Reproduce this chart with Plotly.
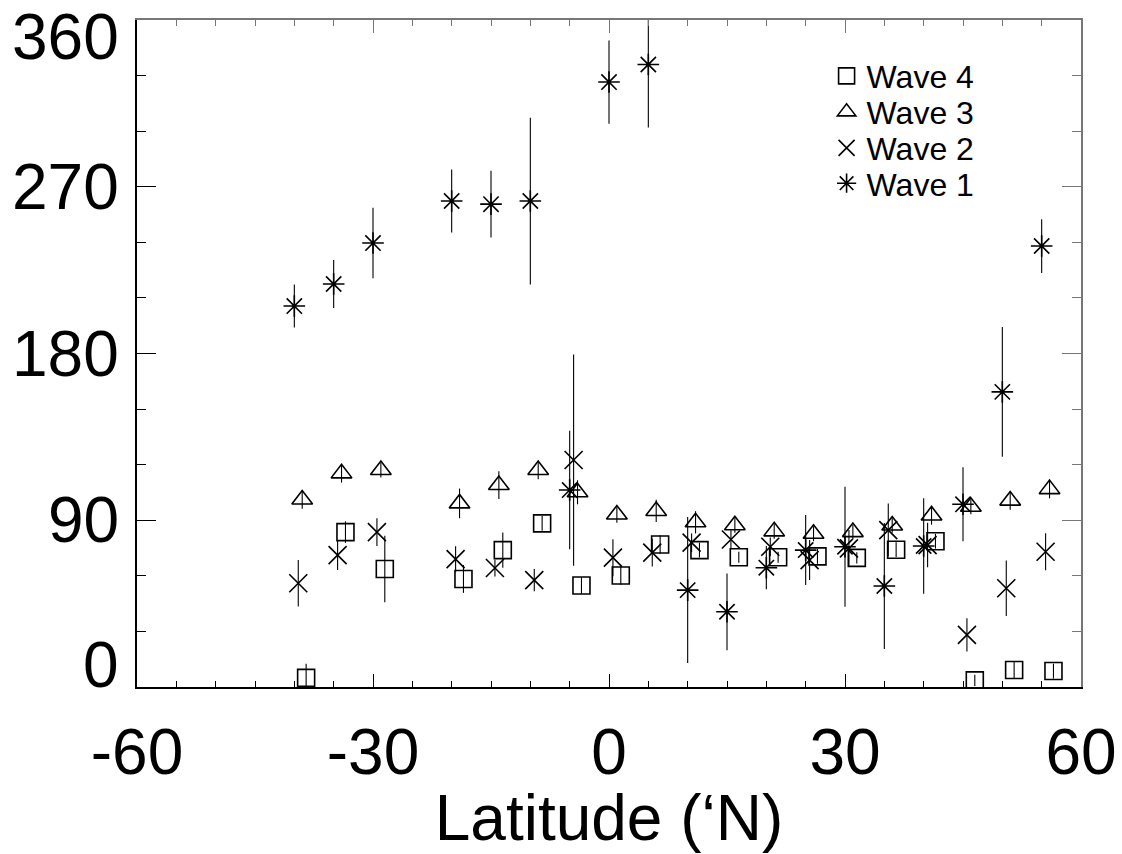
import plotly.graph_objects as go

# ---- data ----
y_tick_values = [0, 90, 180, 270, 360]
x_tick_values = [-60, -30, 0, 30, 60]
x_tick_labels = ["-60", "-30", "0", "30", "60"]

lat_w1 = [-40, -35, -30, -20, -15, -10, -5, 0, 5, 10, 15, 20, 25, 30, 35, 40, 45, 50, 55]
wave1 = [205.6, 217.5, 239.6, 262.3, 260.6, 262.3, 106.3, 326.5, 336.0, 52.3, 40.6, 64.4,
         73.9, 75.7, 54.5, 76.1, 98.6, 159.3, 238.0]
wave1_err = [11.6, 13.0, 19.0, 17.0, 18.0, 45.0, 32.0, 22.5, 34.0, 39.4, 20.7, 11.7,
             18.9, 32.4, 34.0, 25.8, 20.0, 35.0, 14.5]

lat_w2 = [-39.5, -34.5, -29.5, -19.5, -14.5, -9.5, -4.5, 0.5, 5.5, 10.5, 15.5, 20.5,
          25.5, 30.5, 35.5, 40.5, 45.5, 50.5, 55.5]
wave2 = [56.0, 71.2, 83.6, 69.0, 64.2, 57.7, 122.5, 69.8, 72.5, 77.9, 79.6, 75.7,
         68.5, 74.8, 84.7, 76.6, 28.1, 53.3, 73.0]
wave2_err = [12.5, 8.0, 7.5, 7.0, 4.5, 6.0, 57.0, 10.0, 7.5, 5.0, 5.0, 5.0,
             10.8, 10.0, 14.3, 12.0, 9.0, 15.0, 10.0]

lat_w3 = [-39, -34, -29, -19, -14, -9, -4, 1, 6, 11, 16, 21, 26, 31, 36, 41, 46, 51, 56]
wave3 = [101.2, 115.3, 117.1, 99.1, 109.0, 117.1, 105.1, 93.1, 95.0, 88.9, 87.3, 84.0,
         82.7, 83.6, 87.2, 92.6, 97.3, 100.6, 106.8]
wave3_err = [5.0, 5.0, 4.0, 8.0, 7.5, 5.0, 6.5, 4.5, 6.0, 6.0, 4.0, 4.0,
             4.0, 4.0, 4.0, 5.0, 4.0, 5.0, 5.0]

lat_w4 = [-38.5, -33.5, -28.5, -18.5, -13.5, -8.5, -3.5, 1.5, 6.5, 11.5, 16.5, 21.5,
          26.5, 31.5, 36.5, 41.5, 46.5, 51.5, 56.5]
wave4 = [4.9, 83.6, 63.7, 58.3, 73.9, 88.3, 54.8, 60.2, 76.9, 73.9, 70.0, 70.0,
         70.5, 69.7, 74.1, 78.7, 3.6, 9.2, 8.6]
wave4_err = [7.6, 5.8, 18.0, 7.5, 9.5, 4.0, 4.5, 5.0, 5.0, 4.0, 3.0, 3.0,
             4.0, 3.0, 4.0, 4.0, 3.0, 4.5, 4.0]

FONT = "Liberation Sans, Arial, Helvetica, sans-serif"

fig = go.Figure()
series = [
    ("Wave 4", lat_w4, wave4, wave4_err, "square-open", 17, "legend"),
    ("Wave 3", lat_w3, wave3, wave3_err, "triangle-up-open", 18, "legend2"),
    ("Wave 2", lat_w2, wave2, wave2_err, "x-thin-open", 18, "legend3"),
    ("Wave 1", lat_w1, wave1, wave1_err, "asterisk-open", 18, "legend4"),
]
for name, xs, ys, es, sym, sz, lg in series:
    fig.add_trace(go.Scatter(
        x=xs, y=ys, mode="markers", name=name, legend=lg,
        marker=dict(symbol=sym, size=sz, color="black",
                    line=dict(color="black", width=1.6)),
        error_y=dict(type="data", array=es, visible=True, color="black",
                     thickness=1.1, width=0),
    ))

# y tick labels as annotations (0 and 360 pulled inward as in the reference)
yshifts = {0: 22, 360: -17}
for v in y_tick_values:
    fig.add_annotation(x=0, xref="paper", y=v, yref="y", text=str(v),
                       showarrow=False, xanchor="right", yanchor="middle",
                       xshift=-16, yshift=yshifts.get(v, 0),
                       font=dict(family=FONT, size=64, color="black"))

legend_style = dict(x=0.7305, xanchor="left", yanchor="middle",
                    font=dict(family=FONT, size=32, color="black"),
                    bgcolor="rgba(0,0,0,0)", borderwidth=0)

fig.update_layout(
    width=1122, height=854,
    margin=dict(l=137, r=41, t=20, b=167),
    paper_bgcolor="white", plot_bgcolor="white",
    font=dict(family=FONT, color="black"),
    showlegend=True,
    legend=dict(y=0.916, **legend_style),
    legend2=dict(y=0.862, **legend_style),
    legend3=dict(y=0.808, **legend_style),
    legend4=dict(y=0.755, **legend_style),
    xaxis=dict(range=[-60, 60], tickvals=x_tick_values, ticktext=x_tick_labels,
               automargin=False,
               ticks="inside", ticklen=13, tickwidth=1.2, tickcolor="black",
               showline=True, linecolor="black", linewidth=1.5,
               showgrid=False, zeroline=False, ticklabeloverflow="allow",
               minor=dict(dtick=5, ticks="inside", ticklen=6, tickwidth=1, tickcolor="black", showgrid=False),
               tickfont=dict(family=FONT, size=64, color="black"),
               ticklabelstandoff=8,
               title=dict(text="Latitude (\u2018N)", font=dict(family=FONT, size=64, color="black"),
                          standoff=0)),
    yaxis=dict(range=[0, 360], tickvals=y_tick_values, showticklabels=False,
               automargin=False,
               ticks="inside", ticklen=19, tickwidth=1.2, tickcolor="black",
               showline=True, linecolor="black", linewidth=1.5,
               showgrid=False, zeroline=False,
               minor=dict(dtick=30, ticks="inside", ticklen=9, tickwidth=1, tickcolor="black", showgrid=False)),
    xaxis2=dict(range=[-60, 60], overlaying="x", side="top", tickvals=x_tick_values,
                automargin=False,
                showticklabels=False, ticks="inside", ticklen=13, tickwidth=1.2, tickcolor="#777777",
                showline=True, linecolor="#777777", linewidth=1.5, showgrid=False, zeroline=False,
                minor=dict(dtick=5, ticks="inside", ticklen=6, tickwidth=1, tickcolor="#777777", showgrid=False)),
    yaxis2=dict(range=[0, 360], overlaying="y", side="right", tickvals=y_tick_values,
                automargin=False,
                showticklabels=False, ticks="inside", ticklen=19, tickwidth=1.2, tickcolor="#777777",
                showline=True, linecolor="#777777", linewidth=1.5, showgrid=False, zeroline=False,
                minor=dict(dtick=30, ticks="inside", ticklen=9, tickwidth=1, tickcolor="#777777", showgrid=False)),
)
# invisible helper trace so the mirrored (top/right) axes are drawn
fig.add_trace(go.Scatter(x=[None], y=[None], xaxis="x2", yaxis="y2", showlegend=False,
                         hoverinfo="skip", mode="markers"))

fig.write_html("out.html")
